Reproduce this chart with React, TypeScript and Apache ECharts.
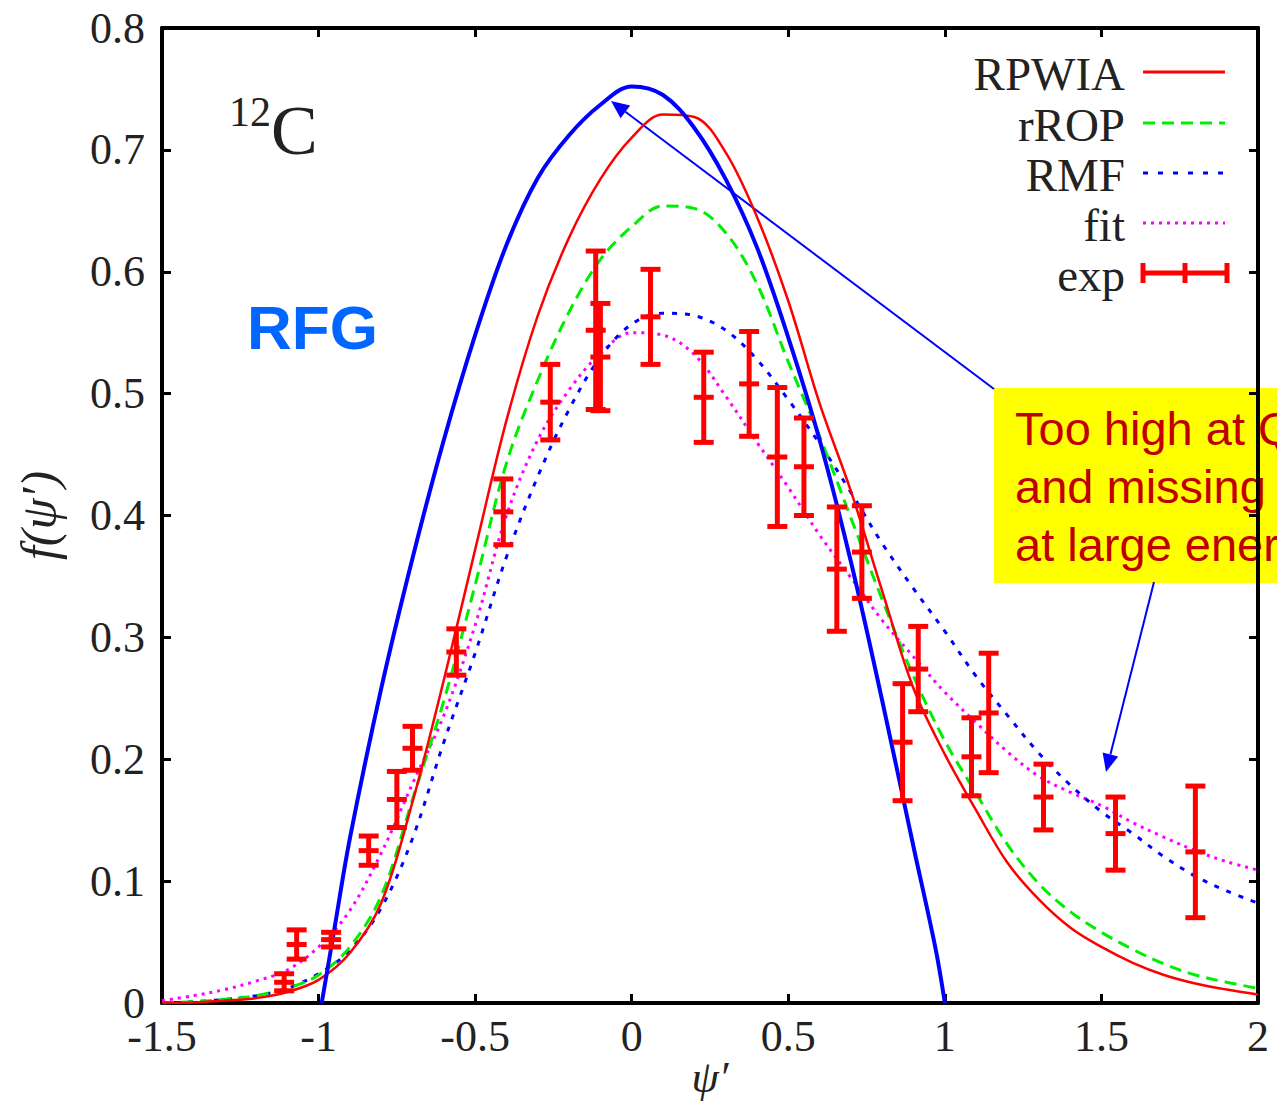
import React, { useEffect, useRef } from 'react';
import * as echarts from 'echarts';

// RPWIA (red solid)
const rpwiaX = [-1.5, -1.4, -1.3, -1.2, -1.1, -1.0, -0.9, -0.8, -0.7, -0.6, -0.5, -0.4, -0.3, -0.2, -0.1, 0.0, 0.1, 0.2, 0.3, 0.4, 0.5, 0.6, 0.7, 0.8, 0.9, 1.0, 1.1, 1.2, 1.3, 1.4, 1.5, 1.6, 1.7, 1.8, 1.9, 2.0];
const rpwiaY = [0, 0.0005, 0.002, 0.004, 0.009, 0.019, 0.041, 0.082, 0.165, 0.265, 0.372, 0.478, 0.564, 0.628, 0.676, 0.71, 0.729, 0.727, 0.698, 0.645, 0.576, 0.492, 0.42, 0.338, 0.258, 0.204, 0.158, 0.115, 0.085, 0.062, 0.046, 0.033, 0.023, 0.016, 0.011, 0.007];

// rROP (green dashed)
const rropX = [-1.5, -1.4, -1.3, -1.2, -1.1, -1.0, -0.9, -0.8, -0.7, -0.6, -0.5, -0.4, -0.3, -0.2, -0.1, 0.0, 0.1, 0.2, 0.3, 0.4, 0.5, 0.6, 0.7, 0.8, 0.9, 1.0, 1.1, 1.2, 1.3, 1.4, 1.5, 1.6, 1.7, 1.8, 1.9, 2.0];
const rropY = [0, 0.001, 0.003, 0.006, 0.012, 0.023, 0.046, 0.088, 0.167, 0.248, 0.343, 0.443, 0.511, 0.567, 0.61, 0.637, 0.654, 0.652, 0.632, 0.59, 0.526, 0.465, 0.398, 0.331, 0.268, 0.215, 0.172, 0.13, 0.098, 0.075, 0.058, 0.044, 0.032, 0.023, 0.017, 0.012];

// RMF (blue short dashes)
const rmfX = [-1.5, -1.4, -1.3, -1.2, -1.1, -1.0, -0.9, -0.8, -0.7, -0.6, -0.5, -0.4, -0.3, -0.2, -0.1, 0.0, 0.1, 0.2, 0.3, 0.4, 0.5, 0.6, 0.7, 0.8, 0.9, 1.0, 1.1, 1.2, 1.3, 1.4, 1.5, 1.6, 1.7, 1.8, 1.9, 2.0];
const rmfY = [0, 0.001, 0.003, 0.006, 0.012, 0.024, 0.043, 0.078, 0.135, 0.214, 0.287, 0.366, 0.432, 0.487, 0.53, 0.557, 0.566, 0.564, 0.552, 0.528, 0.495, 0.459, 0.419, 0.377, 0.34, 0.305, 0.268, 0.236, 0.205, 0.179, 0.157, 0.139, 0.12, 0.104, 0.092, 0.082];

// fit (magenta dotted)
const fitX = [-1.5, -1.4, -1.3, -1.2, -1.1, -1.0, -0.9, -0.8, -0.7, -0.6, -0.5, -0.4, -0.3, -0.2, -0.1, 0.0, 0.1, 0.2, 0.3, 0.4, 0.5, 0.6, 0.7, 0.8, 0.9, 1.0, 1.1, 1.2, 1.3, 1.4, 1.5, 1.6, 1.7, 1.8, 1.9, 2.0];
const fitY = [0.002, 0.006, 0.011, 0.018, 0.027, 0.046, 0.076, 0.123, 0.18, 0.236, 0.31, 0.4, 0.462, 0.503, 0.533, 0.55, 0.548, 0.532, 0.498, 0.46, 0.423, 0.384, 0.349, 0.314, 0.284, 0.255, 0.23, 0.206, 0.186, 0.173, 0.162, 0.148, 0.136, 0.125, 0.116, 0.109];

// RFG (blue solid)
const rfgX = [-0.99, -0.95, -0.9, -0.8, -0.7, -0.6, -0.5, -0.4, -0.3, -0.2, -0.1, 0.0, 0.1, 0.2, 0.3, 0.4, 0.5, 0.6, 0.7, 0.8, 0.9, 0.97, 1.0];
const rfgY = [0, 0.06, 0.135, 0.258, 0.365, 0.462, 0.548, 0.622, 0.677, 0.712, 0.737, 0.752, 0.745, 0.718, 0.676, 0.62, 0.546, 0.462, 0.362, 0.248, 0.128, 0.045, 0];

// exp data with error bars
const expX = [-1.11, -1.07, -0.96, -0.84, -0.75, -0.7, -0.56, -0.41, -0.26, -0.115, -0.1, 0.06, 0.23, 0.375, 0.465, 0.55, 0.655, 0.735, 0.865, 0.915, 1.085, 1.14, 1.315, 1.545, 1.8];
const expY = [0.017, 0.048, 0.052, 0.125, 0.167, 0.209, 0.288, 0.403, 0.493, 0.552, 0.53, 0.563, 0.497, 0.508, 0.448, 0.44, 0.356, 0.37, 0.214, 0.274, 0.202, 0.238, 0.169, 0.139, 0.124];
const expErr = [0.007, 0.012, 0.006, 0.012, 0.023, 0.018, 0.019, 0.027, 0.031, 0.065, 0.044, 0.039, 0.037, 0.043, 0.057, 0.04, 0.051, 0.038, 0.048, 0.035, 0.032, 0.049, 0.027, 0.03, 0.054];

const legendNames = ['RPWIA', 'rROP', 'RMF', 'fit', 'exp'];
const boxLines = ['Too high at QE peak', 'and missing strength', 'at large energy'];

const SERIF = '"Liberation Serif", "Times New Roman", serif';
const SANS = '"Liberation Sans", Arial, sans-serif';

const pairs = (xs: number[], ys: number[]) => xs.map((x, i) => [x, ys[i]]);

function arrowHead(tx: number, ty: number, fx: number, fy: number, len: number, half: number) {
  const dx = tx - fx, dy = ty - fy;
  const L = Math.hypot(dx, dy);
  const ux = dx / L, uy = dy / L;
  const bx = tx - ux * len, by = ty - uy * len;
  const nx = -uy, ny = ux;
  return {
    base: [bx, by],
    pts: [[tx, ty], [bx + nx * half, by + ny * half], [bx - nx * half, by - ny * half]],
  };
}

export default function App() {
  const ref = useRef<HTMLDivElement>(null);
  useEffect(() => {
    document.body.style.margin = '0';
    const chart = echarts.init(ref.current!, null, { renderer: 'svg' });

    const axisCommon = {
      type: 'value' as const,
      axisLine: { show: true, onZero: false, lineStyle: { color: '#000', width: 4 } },
      axisTick: { show: true, inside: true, length: 9, lineStyle: { color: '#000', width: 3 } },
      splitLine: { show: false },
    };

    const a1 = arrowHead(611, 101, 994, 389, 18, 8);
    const a2 = arrowHead(1106, 772, 1154, 582, 18, 8);

    const legendRows = [72, 123, 173, 223, 273];
    const legendStyles: any[] = [
      { stroke: '#ff0000', lineWidth: 3 },
      { stroke: '#00ee00', lineWidth: 3, lineDash: [12, 7] },
      { stroke: '#0000ff', lineWidth: 3, lineDash: [5, 10] },
      { stroke: '#ff00ff', lineWidth: 3, lineDash: [3, 5] },
    ];

    const graphics: any[] = [];
    legendNames.forEach((n, i) => {
      graphics.push({
        type: 'text',
        style: {
          text: n, x: 1125, y: legendRows[i] + 2, font: `47px ${SERIF}`, fill: '#222',
          align: 'right', verticalAlign: 'middle', textAlign: 'right', textVerticalAlign: 'middle',
        },
      });
    });
    legendStyles.forEach((s, i) => {
      graphics.push({ type: 'line', shape: { x1: 1143, y1: legendRows[i], x2: 1225, y2: legendRows[i] }, style: s });
    });
    const ey = legendRows[4];
    graphics.push({ type: 'line', shape: { x1: 1143, y1: ey, x2: 1227, y2: ey }, style: { stroke: '#ff0000', lineWidth: 5 } });
    [1143, 1185, 1227].forEach((x) => {
      graphics.push({ type: 'line', shape: { x1: x, y1: ey - 10, x2: x, y2: ey + 10 }, style: { stroke: '#ff0000', lineWidth: 5 } });
    });

    // 12C label
    graphics.push({ type: 'text', style: { text: '12', x: 229, y: 112, font: `42px ${SERIF}`, fill: '#222', align: 'left', verticalAlign: 'middle', textAlign: 'left', textVerticalAlign: 'middle' } });
    graphics.push({ type: 'text', style: { text: 'C', x: 271, y: 130, font: `70px ${SERIF}`, fill: '#222', align: 'left', verticalAlign: 'middle', textAlign: 'left', textVerticalAlign: 'middle' } });

    // RFG label
    graphics.push({ type: 'text', style: { text: 'RFG', x: 247, y: 327, font: `bold 62px ${SANS}`, fill: '#0066ff', align: 'left', verticalAlign: 'middle', textAlign: 'left', textVerticalAlign: 'middle' } });

    // yellow note box (runs past the right edge, as in the original)
    graphics.push({ type: 'rect', shape: { x: 994, y: 388, width: 400, height: 195 }, style: { fill: '#ffff00' } });
    [428, 486, 544].forEach((y, i) => {
      graphics.push({ type: 'text', style: { text: boxLines[i], x: 1015, y, font: `47px ${SANS}`, fill: '#c00000', align: 'left', verticalAlign: 'middle', textAlign: 'left', textVerticalAlign: 'middle' } });
    });

    // arrows
    graphics.push({ type: 'line', shape: { x1: 994, y1: 389, x2: a1.base[0], y2: a1.base[1] }, style: { stroke: '#0000ff', lineWidth: 2 } });
    graphics.push({ type: 'polygon', shape: { points: a1.pts }, style: { fill: '#0000ff' } });
    graphics.push({ type: 'line', shape: { x1: 1154, y1: 582, x2: a2.base[0], y2: a2.base[1] }, style: { stroke: '#0000ff', lineWidth: 2 } });
    graphics.push({ type: 'polygon', shape: { points: a2.pts }, style: { fill: '#0000ff' } });

    const lineSeries = (name: string, xs: number[], ys: number[], color: string, width: number, type: any, z: number) => ({
      name, type: 'line', data: pairs(xs, ys), showSymbol: false, symbol: 'none', smooth: 0.35,
      lineStyle: { color, width, type }, z, silent: true,
    });

    const expData = expX.map((x, i) => [x, expY[i], expErr[i]]);

    chart.setOption({
      animation: false,
      backgroundColor: '#fff',
      grid: { left: 162, right: 19, top: 28, bottom: 102, containLabel: false, outerBoundsMode: 'none' },
      xAxis: [
        {
          ...axisCommon, position: 'bottom', min: -1.5, max: 2, interval: 0.5,
          axisLabel: { fontFamily: SERIF, fontSize: 44, lineHeight: 30, color: '#222', margin: 18, formatter: (v: number) => String(v) },
          name: 'ψ′', nameLocation: 'middle', nameGap: 52, nameMoveOverlap: false,
          nameTextStyle: { fontFamily: SERIF, fontSize: 44, lineHeight: 44, fontStyle: 'italic', color: '#222' },
        },
        { ...axisCommon, position: 'top', min: -1.5, max: 2, interval: 0.5, axisLabel: { show: false } },
      ],
      yAxis: [
        {
          ...axisCommon, position: 'left', min: 0, max: 0.8, interval: 0.1,
          axisLabel: { fontFamily: SERIF, fontSize: 44, lineHeight: 28, color: '#222', margin: 17, formatter: (v: number) => String(Math.round(v * 10) / 10) },
          name: 'f(ψ′)', nameLocation: 'middle', nameGap: 98, nameMoveOverlap: false,
          nameTextStyle: { fontFamily: SERIF, fontSize: 50, fontStyle: 'italic', color: '#222' },
        },
        { ...axisCommon, position: 'right', min: 0, max: 0.8, interval: 0.1, axisLabel: { show: false } },
      ],
      series: [
        lineSeries('fit', fitX, fitY, '#ff00ff', 3, [3, 5], 2),
        lineSeries('RMF', rmfX, rmfY, '#0000ff', 3, [5, 8], 3),
        lineSeries('rROP', rropX, rropY, '#00ee00', 3, [12, 7], 4),
        lineSeries('RPWIA', rpwiaX, rpwiaY, '#ff0000', 2.5, 'solid', 5),
        lineSeries('RFG', rfgX, rfgY, '#0000ff', 4, 'solid', 6),
        {
          name: 'exp', type: 'custom', data: expData, z: 7, silent: true,
          encode: { x: 0, y: 1 },
          renderItem: (params: any, api: any) => {
            const x = api.value(0), y = api.value(1), e = api.value(2);
            const top = api.coord([x, y + e]);
            const bot = api.coord([x, y - e]);
            const mid = api.coord([x, y]);
            const hw = 10;
            const st = { stroke: '#ff0000', lineWidth: 5 };
            return {
              type: 'group',
              children: [
                { type: 'line', shape: { x1: top[0], y1: top[1], x2: bot[0], y2: bot[1] }, style: st },
                { type: 'line', shape: { x1: top[0] - hw, y1: top[1], x2: top[0] + hw, y2: top[1] }, style: st },
                { type: 'line', shape: { x1: bot[0] - hw, y1: bot[1], x2: bot[0] + hw, y2: bot[1] }, style: st },
                { type: 'line', shape: { x1: mid[0] - hw, y1: mid[1], x2: mid[0] + hw, y2: mid[1] }, style: st },
              ],
            };
          },
        },
      ],
      graphic: graphics,
    });
    return () => chart.dispose();
  }, []);
  return <div ref={ref} style={{ width: 1277, height: 1105 }} />;
}
